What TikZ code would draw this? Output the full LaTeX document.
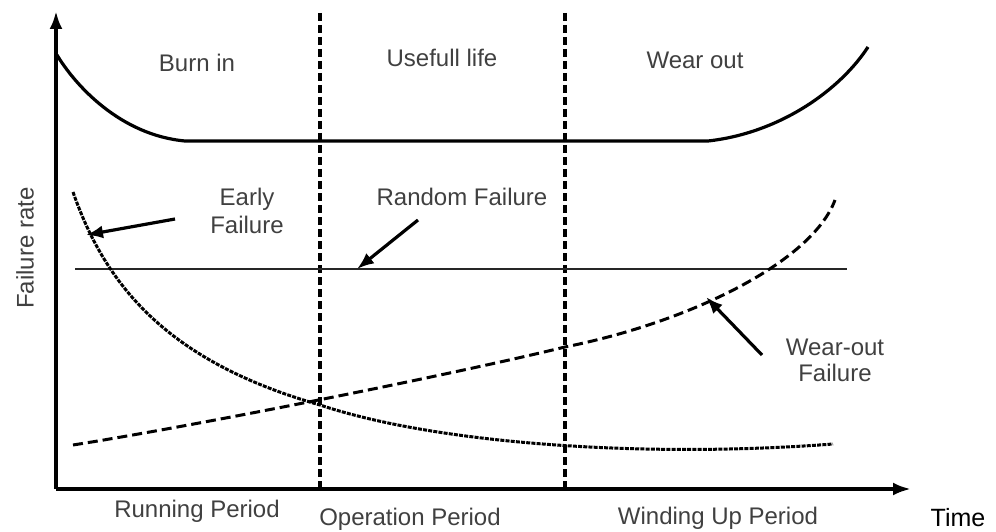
\documentclass[tikz,border=0pt]{standalone}
\usepackage{fontspec}
\setmainfont{Liberation Sans}
\usetikzlibrary{arrows.meta}
\begin{document}
\begin{tikzpicture}[x=1pt,y=-1pt,
  lbl/.style={font=\fontsize{24}{28}\selectfont, text=black!75, inner sep=0pt, align=center},
  axisline/.style={line width=3.6pt, -{Latex[length=18pt,width=13pt]}},
  divider/.style={line width=3.4pt, dash pattern=on 8pt off 4pt},
  bathtub/.style={line width=3.2pt},
  randline/.style={line width=2.6pt, black!85},
  earlycurve/.style={line width=3pt, dash pattern=on 4pt off 1.2pt},
  wearcurve/.style={line width=3pt, dash pattern=on 10pt off 5pt},
  pointer/.style={line width=3.2pt, -{Latex[length=17pt,width=13pt]}}]
\useasboundingbox (0,0) rectangle (996,532);
% axes
\coordinate (O) at (56,489);
\coordinate (Ytop) at (56,11);
\coordinate (Xend) at (911,489);
\draw[axisline] (O) -- (Ytop);
\draw[axisline] (O) -- (Xend);
% dividers
\coordinate (D1t) at (320,13);
\coordinate (D1b) at (320,491);
\coordinate (D2t) at (565,13);
\coordinate (D2b) at (565,491);
\draw[divider] (D1t) -- (D1b);
\draw[divider] (D2t) -- (D2b);
% bathtub curve
\coordinate (B0) at (57,55);
\coordinate (B1) at (185,141);
\coordinate (B2) at (708,141);
\coordinate (B3) at (868,47);
\draw[bathtub] (B0) .. controls (75,85) and (120,135) .. (B1) -- (B2)
  .. controls (780,133) and (840,90) .. (B3);
% random failure line
\coordinate (R0) at (75,269);
\coordinate (R1) at (847,269);
\draw[randline] (R0) -- (R1);
% early failure curve
\coordinate (E0) at (73,192);
\coordinate (E1) at (320,405);
\coordinate (E2) at (833,444);
\draw[earlycurve] (E0) .. controls (106,287) and (169,362) .. (E1)
  .. controls (440,445) and (650,458) .. (E2);
% wear-out curve
\coordinate (W0) at (73,445);
\coordinate (W1) at (565,347);
\coordinate (W2) at (835,200);
\draw[wearcurve] (W0) .. controls (200,425) and (450,375) .. (W1)
  .. controls (690,322) and (812,262) .. (W2);
% region labels
\node[lbl] (burn) at (197,63) {Burn in};
\node[lbl] (useful) at (442,58) {Usefull life};
\node[lbl] (wear) at (695,60) {Wear out};
\node[lbl] (early) at (247,211) {Early\\Failure};
\node[lbl] (random) at (462,197) {Random Failure};
\node[lbl, font=\fontsize{24}{26}\selectfont] (wearfail) at (835,360) {Wear-out\\Failure};
\node[lbl, rotate=90] (ylab) at (25,248) {Failure rate};
\node[lbl] (run) at (197,511) {Running Period};
\node[lbl] (oper) at (410,519) {Operation Period};
\node[lbl] (wind) at (718,518) {Winding Up Period};
\node[lbl, text=black, font=\fontsize{25}{28}\selectfont] (time) at (958,518) {Time};
% pointers
\coordinate (EA0) at (175,219);
\coordinate (EA1) at (86,235);
\coordinate (RA0) at (418,220);
\coordinate (RA1) at (357,269);
\coordinate (WA0) at (762,355);
\coordinate (WA1) at (706,297);
\draw[pointer] (EA0) -- (EA1);
\draw[pointer] (RA0) -- (RA1);
\draw[pointer] (WA0) -- (WA1);
\end{tikzpicture}
\end{document}
